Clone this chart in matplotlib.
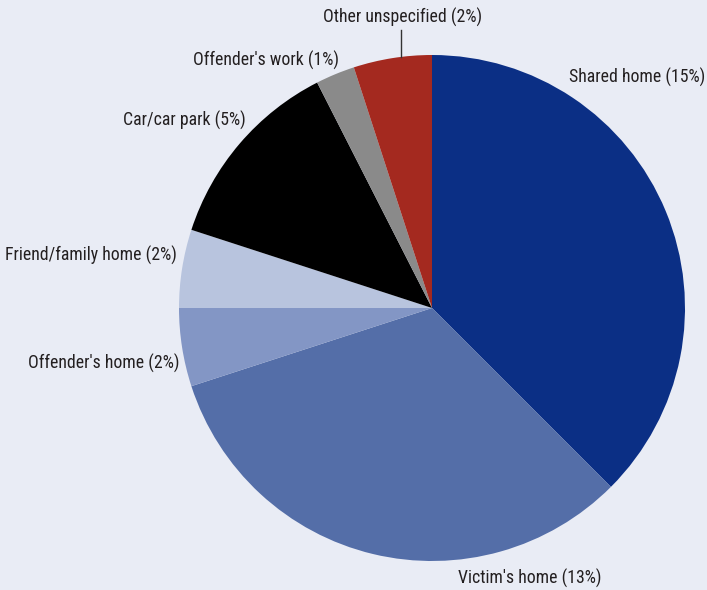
import matplotlib
matplotlib.use('Agg')
import matplotlib.pyplot as plt

# Location of offence, share of incidents
locations = ["Shared home", "Victim's home", "Offender's home", "Friend/family home",
             "Car/car park", "Offender's work", "Other unspecified"]
values = [15, 13, 2, 2, 5, 1, 2]
colors = ['#0b2f85', '#546ea8', '#8396c5', '#b8c4de', '#000000', '#8a8a8a', '#a4291f']

bg = '#e9ecf5'
plt.rcParams['font.family'] = ['Liberation Sans Narrow', 'Arial Narrow', 'Roboto Condensed',
                               'Archivo Narrow', 'DejaVu Sans']

fig = plt.figure(figsize=(7.07, 5.90), dpi=100, facecolor=bg)
ax = fig.add_axes([0, 0, 1, 1])
ax.set_facecolor(bg)

ax.pie(values, colors=colors, startangle=90, counterclock=False,
       center=(432, 282), radius=253, wedgeprops=dict(linewidth=0))

ax.set_xlim(0, 707)
ax.set_ylim(0, 590)
ax.set_aspect('equal')
ax.set_axis_off()

labels = [f'{n} ({v}%)' for n, v in zip(locations, values)]
fs = 12.8
tc = '#231f20'
ax.text(705, 513, labels[0], ha='right', va='center', fontsize=fs, color=tc)
ax.text(530, 12, labels[1], ha='center', va='center', fontsize=fs, color=tc)
ax.text(179, 227, labels[2], ha='right', va='center', fontsize=fs, color=tc)
ax.text(177, 335, labels[3], ha='right', va='center', fontsize=fs, color=tc)
ax.text(246, 470, labels[4], ha='right', va='center', fontsize=fs, color=tc)
ax.text(339, 530, labels[5], ha='right', va='center', fontsize=fs, color=tc)
ax.text(403, 573, labels[6], ha='center', va='center', fontsize=fs, color=tc)
ax.plot([401, 401], [560, 533], color='#333333', linewidth=1)

fig.savefig('out.png', dpi=100, facecolor=bg)
